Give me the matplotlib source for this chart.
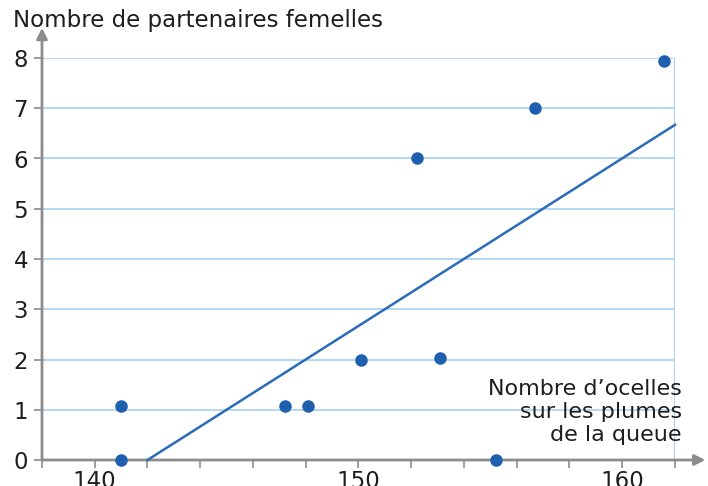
import numpy as np
import matplotlib
matplotlib.use("Agg")
import matplotlib.pyplot as plt

# Nombre d'ocelles vs nombre de partenaires femelles
ocelles = [141.0, 141.0, 147.2, 148.1, 150.1, 152.2, 153.1, 155.2, 156.7, 161.6]
partenaires = [1.08, 0.0, 1.08, 1.08, 2.0, 6.0, 2.02, 0.0, 7.0, 7.95]

# droite de tendance
line_x = [142.0, 162.0]
line_y = [0.0, 6.67]

x_ticks = np.arange(138, 163, 2)
x_labels = ["140", "150", "160"]
y_ticks = list(range(0, 9))

plt.rcParams["font.family"] = ["DejaVu Sans"]

fig = plt.figure(figsize=(7.08, 4.86), dpi=100)
ax = fig.add_axes([42 / 708, 26 / 486, 633 / 708, 402 / 486])
ax.set_xlim(138, 162)
ax.set_ylim(0, 8)

grid_col = "#aed4f2"
for y in y_ticks[1:]:
    ax.plot([138, 162], [y, y], color=grid_col, lw=1.3, zorder=1)
ax.plot([162, 162], [0, 8], color=grid_col, lw=1.6, zorder=1)

ax.plot(line_x, line_y, color="#2b6cb8", lw=1.8, zorder=3, clip_on=False)
ax.plot(ocelles, partenaires, "o", color="#1f5fb0", ms=8, zorder=4, clip_on=False)

for s in ax.spines.values():
    s.set_visible(False)

axis_col = "#8c8c8c"
text_col = "#1e1e1e"
# axes with arrows
ax.annotate("", xy=(1.048, 0), xytext=(0, 0), xycoords="axes fraction",
            arrowprops=dict(arrowstyle="-|>", color=axis_col, lw=2, mutation_scale=16,
                            shrinkA=0, shrinkB=0), zorder=2, annotation_clip=False)
ax.annotate("", xy=(0, 1.075), xytext=(0, 0), xycoords="axes fraction",
            arrowprops=dict(arrowstyle="-|>", color=axis_col, lw=2, mutation_scale=16,
                            shrinkA=0, shrinkB=0), zorder=2, annotation_clip=False)

ax.set_xticks(x_ticks)
ax.set_xticklabels([str(t) if str(t) in x_labels else "" for t in x_ticks])
ax.set_yticks(y_ticks)
ax.tick_params(axis="both", colors=axis_col, width=1.2, length=6, labelsize=16.5,
               labelcolor=text_col)
ax.tick_params(axis="x", pad=1)
ax.tick_params(axis="y", pad=4)

fig.text(13 / 708, 1 - 20 / 486, "Nombre de partenaires femelles", fontsize=16.5,
         color=text_col, ha="left", va="center")
fig.text(682 / 708, 1 - 412 / 486, "Nombre d\u2019ocelles\nsur les plumes\nde la queue",
         fontsize=16, color=text_col, ha="right", va="center", linespacing=1.2)

fig.savefig("out.png", dpi=100)
